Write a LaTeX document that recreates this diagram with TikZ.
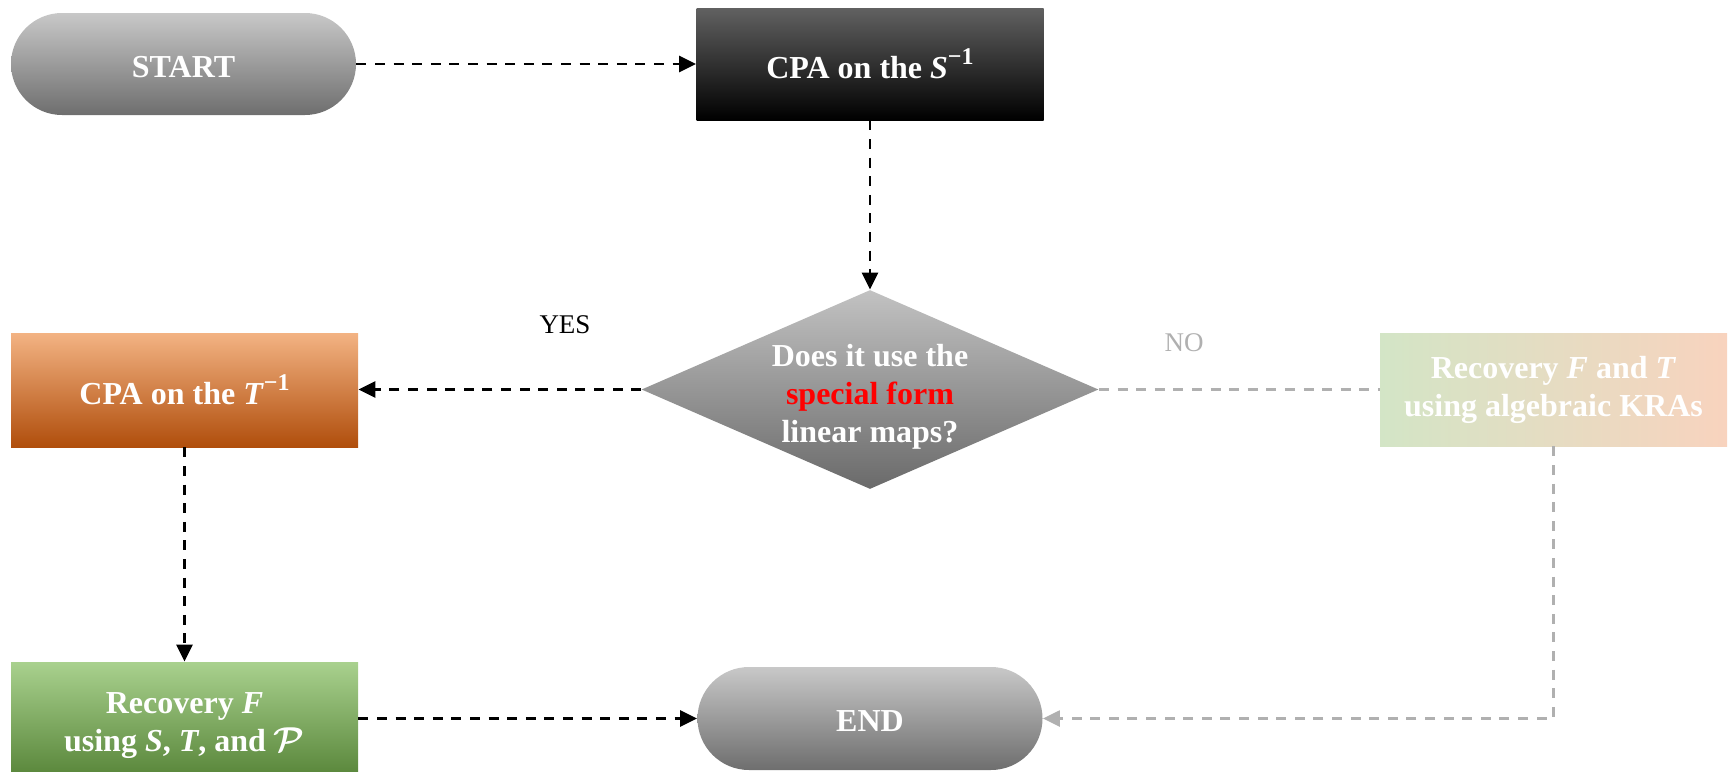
\documentclass[tikz,border=0pt]{standalone}
\usepackage{fontspec}
\setmainfont{Liberation Serif}
\usetikzlibrary{shapes.geometric,shapes.misc,arrows.meta}

\definecolor{pillTop}{HTML}{C8C8C8}
\definecolor{pillBot}{HTML}{6E6E6E}
\definecolor{decTop}{HTML}{C2C2C2}
\definecolor{decBot}{HTML}{6A6A6A}
\definecolor{orTop}{HTML}{F3B383}
\definecolor{orMid}{HTML}{ED7D31}
\definecolor{orBot}{HTML}{B04E0C}
\definecolor{grTop}{HTML}{A9D18E}
\definecolor{grMid}{HTML}{70AD47}
\definecolor{grBot}{HTML}{4F7D30}
\definecolor{kraL}{HTML}{D3E5C6}
\definecolor{kraR}{HTML}{F8D3BE}
\definecolor{lineGray}{HTML}{B0B0B0}

\tikzset{
  boxfont/.style={font=\fontsize{16}{19}\selectfont\bfseries, text=white, align=center},
  pill/.style={rounded rectangle, boxfont, minimum width=172.5pt, minimum height=51pt,
    inner sep=0pt, text height=13pt, text depth=0pt, top color=pillTop, bottom color=pillBot},
  rectbox/.style={rectangle, boxfont, minimum width=173.5pt, minimum height=57pt, inner sep=0pt},
  tip/.style={-{Triangle[length=8.5pt,width=8pt]}},
  flow/.style={dashed, dash pattern=on 5pt off 4.3pt, line width=1.4pt, black, tip},
  flowgray/.style={dashed, dash pattern=on 5pt off 4.3pt, line width=1.2pt, lineGray},
}
\newcommand{\inv}[1]{\textit{#1}\raisebox{0.45em}{\fontsize{12}{12}\selectfont −1}}

\begin{document}
\begin{tikzpicture}[x=0.5pt,y=-0.5pt]
\useasboundingbox (0,0) rectangle (1729,771);

% nodes
\node[pill] (start) at (183.5,64) {START};
\node[rectbox, minimum height=56pt, top color=black!62, middle color=black, bottom color=black]
  (cpas) at (870,64) {CPA on the \inv{S}};
\node[diamond, minimum width=228.5pt, minimum height=99.5pt, inner sep=0pt,
  top color=decTop, bottom color=decBot] (dec) at (870,389.5) {};
\node[boxfont] (dectext) at (870,397) {Does it use the\\ \textcolor{red}{special form}\\ linear maps?};
\node[rectbox, top color=orTop, middle color=orMid, bottom color=orBot]
  (cpat) at (184.5,390) {CPA on the \inv{T}};
\node[rectbox, minimum height=56.5pt, left color=kraL, right color=kraR]
  (kra) at (1553.5,389.5) {Recovery \textit{F} and \textit{T}\\ using algebraic KRAs};
\node[rectbox, minimum height=64pt, top color=grTop, middle color=grMid, bottom color=grBot]
  (recf) at (184.5,726) {Recovery \textit{F}\\ using \textit{S}, \textit{T}, and {\boldmath$\mathcal{P}$}};
\node[pill, minimum height=51.5pt] (end) at (870,718.5) {END};

% branch labels
\node[font=\fontsize{13.5}{16}\selectfont] (yes) at (565,325) {YES};
\node[font=\fontsize{13.5}{16}\selectfont, text=lineGray] (no) at (1184,343) {NO};

% connectors
\draw[flow] (start.east) -- (start.east -| cpas.west);
\draw[flow] (cpas.south) -- (dec.north);
\draw[flow] (dec.west) -- (dec.west -| cpat.east);
\draw[flowgray] (dec.east) -- (kra.west);
\draw[flow] (cpat.south) -- (recf.north);
\draw[flow] (recf.east |- end.west) -- (end.west);
\draw[flowgray, tip] (kra.south) |- (end.east);
\end{tikzpicture}
\end{document}
